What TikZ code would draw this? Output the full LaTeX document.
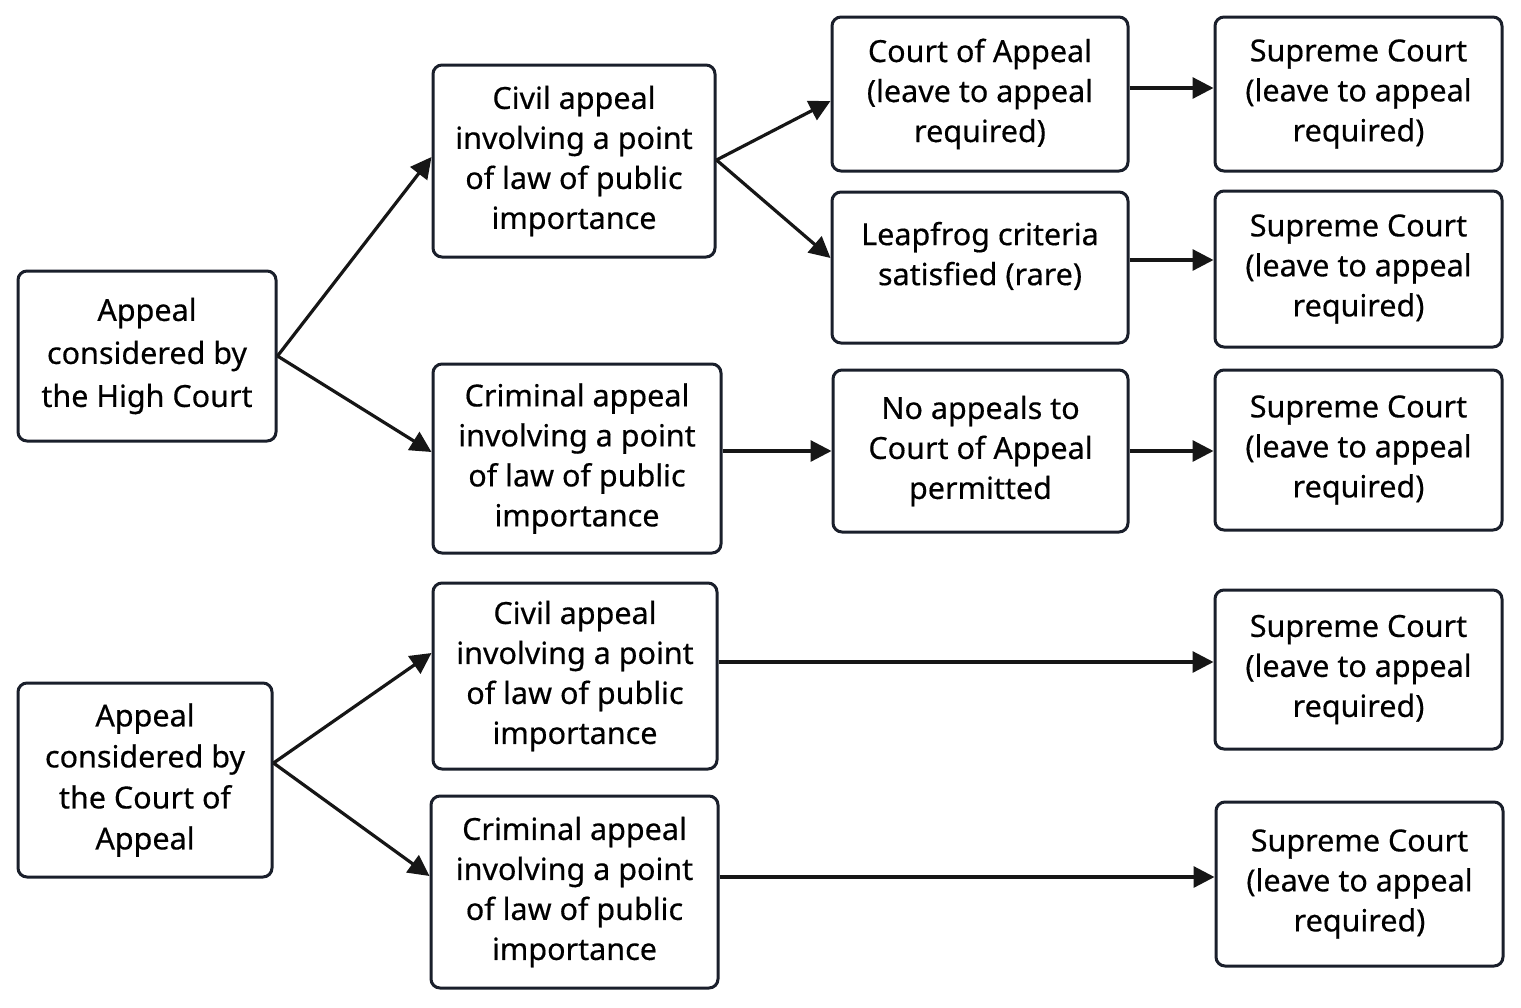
\documentclass[tikz,border=0pt]{standalone}
\usepackage{fontspec}
\setmainfont{Noto Sans}[FakeBold=0.4]
\usetikzlibrary{arrows.meta,calc}
\definecolor{boxline}{HTML}{1A1F2B}
\definecolor{arr}{HTML}{161616}
\tikzset{
  box/.style={draw=boxline, line width=3pt, rounded corners=9pt, fill=white,
    align=center, inner sep=0pt, font=\fontsize{30.5}{40}\selectfont\bfseries},
  conn/.style={draw=arr, line width=3.2pt, -{Triangle[length=21pt,width=21pt]}},
}
\begin{document}
\begin{tikzpicture}[x=1pt,y=-1pt]
\useasboundingbox (0,0) rectangle (1521,1007);
\fill[white] (0,0) rectangle (1521,1007);
% column A
\node[box, minimum width=258pt, minimum height=170pt, font=\fontsize{30.5}{43}\selectfont\bfseries] (A1) at (147,356) {Appeal\\considered by\\the High Court};
\node[box, minimum width=254pt, minimum height=194pt, font=\fontsize{30.5}{41}\selectfont\bfseries] (A2) at (145,780) {Appeal\\considered by\\the Court of\\Appeal};
% column B
\node[box, minimum width=282pt, minimum height=192pt] (B1) at (574,161) {Civil appeal\\involving a point\\of law of public\\importance};
\node[box, minimum width=288pt, minimum height=189pt] (B2) at (577,458.5) {Criminal appeal\\involving a point\\of law of public\\importance};
\node[box, minimum width=284pt, minimum height=186pt] (B3) at (575,676) {Civil appeal\\involving a point\\of law of public\\importance};
\node[box, minimum width=287pt, minimum height=192pt] (B4) at (574.5,892) {Criminal appeal\\involving a point\\of law of public\\importance};
% column C
\node[box, minimum width=296pt, minimum height=154pt] (C1) at (980,94) {Court of Appeal\\(leave to appeal\\required)};
\node[box, minimum width=296pt, minimum height=151pt] (C2) at (980,267.5) {Leapfrog criteria\\satisfied (rare)\\[-12pt]\mbox{}};
\node[box, minimum width=295pt, minimum height=162pt] (C3) at (980.5,451) {No appeals to\\Court of Appeal\\permitted};
% column D
\node[box, minimum width=287pt, minimum height=154pt] (D1) at (1358.5,94) {Supreme Court\\(leave to appeal\\required)};
\node[box, minimum width=287pt, minimum height=156pt] (D2) at (1358.5,269) {Supreme Court\\(leave to appeal\\required)};
\node[box, minimum width=287pt, minimum height=160pt] (D3) at (1358.5,450) {Supreme Court\\(leave to appeal\\required)};
\node[box, minimum width=287pt, minimum height=159pt] (D4) at (1358.5,669.5) {Supreme Court\\(leave to appeal\\required)};
\node[box, minimum width=287pt, minimum height=164pt] (D5) at (1359.5,884) {Supreme Court\\(leave to appeal\\required)};
% connectors
\draw[conn] (A1.east) -- ([yshift=4pt]B1.west);
\draw[conn] (A1.east) -- ([yshift=6.5pt]B2.west);
\draw[conn] ([yshift=1pt]B1.east) -- ([yshift=-7pt]C1.west);
\draw[conn] ([yshift=1pt]B1.east) -- ([yshift=9.5pt]C2.west);
\draw[conn] (C1.east |- 0,88) -- (D1.west |- 0,88);
\draw[conn] (C2.east |- 0,260) -- (D2.west |- 0,260);
\draw[conn] (B2.east |- 0,451) -- (C3.west |- 0,451);
\draw[conn] (C3.east |- 0,451) -- (D3.west |- 0,451);
\draw[conn] ([yshift=17pt]A2.east) -- ([yshift=23pt]B3.west);
\draw[conn] ([yshift=17pt]A2.east) -- ([yshift=16pt]B4.west);
\draw[conn] (B3.east |- 0,662) -- (D4.west |- 0,662);
\draw[conn] (B4.east |- 0,877) -- (D5.west |- 0,877);
\end{tikzpicture}
\end{document}
